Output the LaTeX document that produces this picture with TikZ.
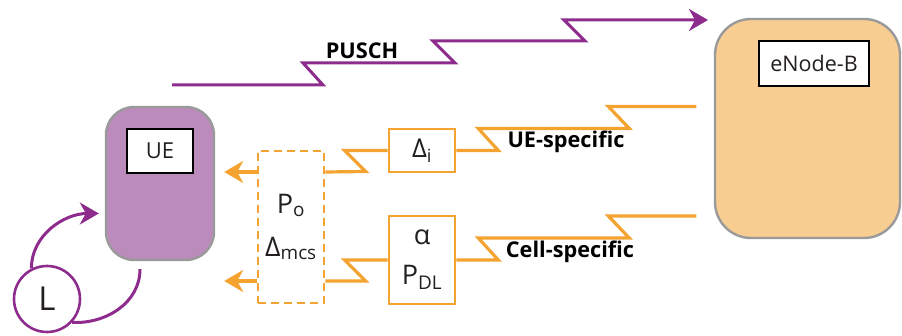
\documentclass[tikz,border=0pt]{standalone}
\usepackage{fontspec}
\setmainfont{Open Sans}
\usetikzlibrary{positioning,arrows.meta}
\usepackage{xcolor}
\definecolor{lteorange}{HTML}{F4A331}
\definecolor{ltepurple}{HTML}{8E2C8E}
\definecolor{uefill}{HTML}{BB8BBB}
\definecolor{enbfill}{HTML}{F8CD92}
\definecolor{edgegray}{HTML}{9A9A9A}
\definecolor{inktext}{HTML}{231F20}
\newcommand{\lowidx}[1]{\textsubscript{#1}}
\newcommand{\fsz}[1]{\fontsize{#1}{#1}\selectfont}

\begin{document}
\begin{tikzpicture}[x=1pt,y=-1pt,>={Stealth[length=19pt,width=22pt,inset=6pt]},
  oline/.style={lteorange,line width=3.2pt},
  pline/.style={ltepurple,line width=3pt},
  devbox/.style={draw=edgegray,line width=2.4pt,rounded corners=28pt},
  lblbox/.style={draw=black,fill=white,line width=2.4pt,text=inktext,font=\fsz{22}},
  obox/.style={draw=lteorange,line width=2.6pt,text=inktext,align=center,inner sep=0pt},
  tag/.style={text=black,font=\bfseries\fsz{21.7}}]
\useasboundingbox (0,0) rectangle (902,336);
% devices
\node[devbox,fill=uefill,minimum width=108pt,minimum height=153pt] (ue) at (160,183.5) {};
\node[lblbox,minimum width=66pt,minimum height=44pt] (uelbl) at (160,151) {UE};
\node[devbox,fill=enbfill,rounded corners=36pt,minimum width=185pt,minimum height=219pt] (enb) at (807.5,128.5) {};
\node[lblbox,minimum width=110pt,minimum height=45pt,font=\fsz{21.5}] (enblbl) at (814,63.5) {eNode-B};
\node[draw=ltepurple,line width=2.6pt,circle,minimum size=66pt,inner sep=0pt,text=inktext,font=\fsz{33}] (L) at (47,299) {L};
% parameter boxes
\node[obox,dashed,dash pattern=on 8pt off 5pt,minimum width=66pt,minimum height=152pt,
  font=\fontsize{27}{45}\selectfont] (pset) at (291,227) {P\lowidx{o}\\[-2pt]Δ\lowidx{mcs}};
\node[obox,minimum width=66pt,minimum height=43pt,font=\fsz{26}] (di) at (422,150.5) {Δ\lowidx{i}};
\node[obox,minimum width=66pt,minimum height=88pt,font=\fontsize{27}{40}\selectfont] (ap) at (422,260) {α\\P\lowidx{DL}};
% labels
\node[tag] (pusch) at (362,51) {PUSCH};
\node[tag] (uespec) at (566,142) {UE-specific};
\node[tag] (cellspec) at (570,252) {Cell-specific};
\coordinate (ua) at (0,172);
\coordinate (la) at (0,281);
\coordinate (pstart) at (172,85);
% uplink
\draw[pline,->] (pstart) -- ++(151,0) -- ++(-20,-22) -- ++(152,0) -- ++(-22,-22)
  -- ++(152,0) -- ++(-21,-21) -- ++(144,0);
% downlink signalling
\draw[oline] (di.east) -- ++(42,0) -- ++(-20,-22) -- ++(151,0) -- ++(-21,-22) -- ++(88,0);
\draw[oline] (ap.east) -- ++(42,0) -- ++(-20,-22) -- ++(151,0) -- ++(-21,-22) -- ++(88,0);
\draw[oline] (di.west) -- ++(-43,0) -- ++(21,21) -- (pset.east |- ua);
\draw[oline] (ap.west) -- ++(-43,0) -- ++(21,21) -- (pset.east |- la);
\draw[oline,->,shorten >=9pt] (pset.west |- ua) -- (ue.east |- ua);
\draw[oline,->,shorten >=9pt] (pset.west |- la) -- (ue.east |- la);
% loop
\draw[pline,->] (L.117) to[out=90,in=180] ([xshift=-6pt,yshift=-30pt]ue.west);
\draw[pline] (L.-43) to[out=-3,in=-90] ([xshift=-20pt,yshift=-8pt]ue.south);
\end{tikzpicture}
\end{document}
